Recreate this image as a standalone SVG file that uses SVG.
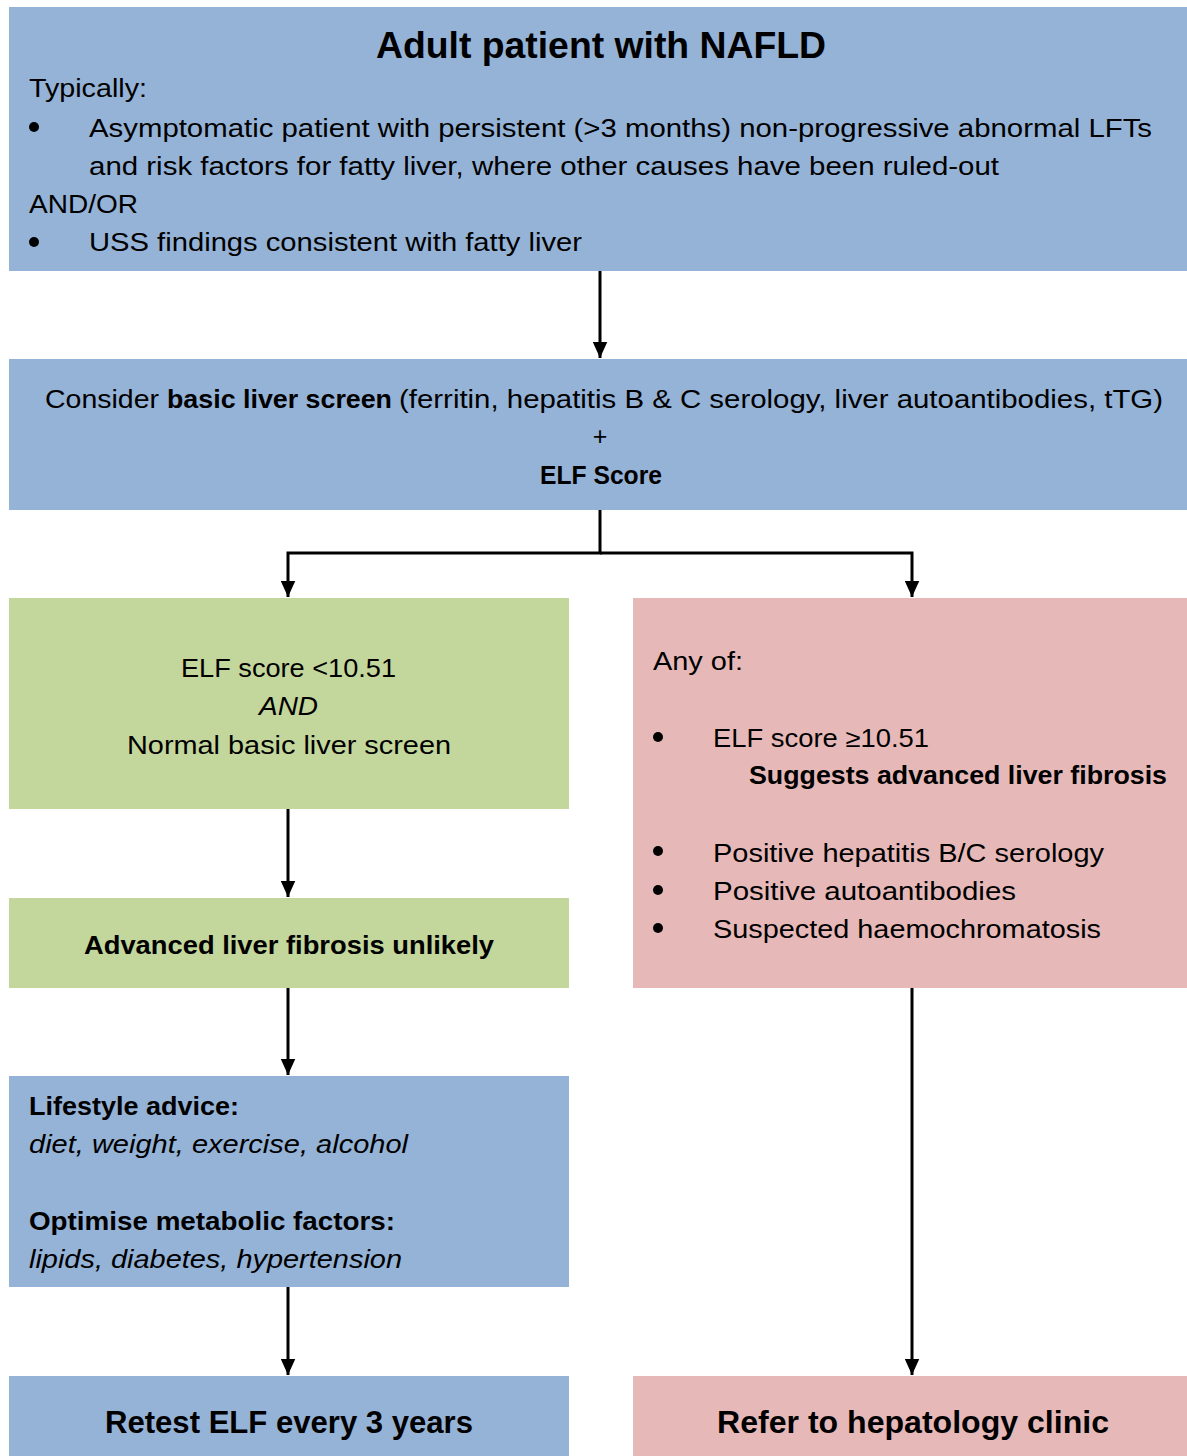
<svg xmlns="http://www.w3.org/2000/svg" width="1187" height="1456" viewBox="0 0 1187 1456">
<defs>
<style>
text{font-family:"Liberation Sans",Arial,sans-serif;font-size:25px;fill:#000}
.b{font-weight:bold;font-size:26px}
.i{font-style:italic}
.blue{fill:#95B3D7}
.green{fill:#C3D69B}
.pink{fill:#E6B9B8}
.c{stroke:#000;stroke-width:3;fill:none}
</style>
<marker id="ah" viewBox="0 0 10 10" refX="10" refY="5" markerWidth="5.5" markerHeight="5" orient="auto" markerUnits="strokeWidth" preserveAspectRatio="none">
<path d="M0,0 L10,5 L0,10 z" fill="#000"/>
</marker>
</defs>
<rect width="1187" height="1456" fill="#fff"/>
<g id="connectors">
<line class="c" x1="600" y1="271" x2="600" y2="358" marker-end="url(#ah)"/>
<polyline class="c" points="600,510 600,553 288,553 288,597" marker-end="url(#ah)"/>
<polyline class="c" points="600,553 912,553 912,597" marker-end="url(#ah)"/>
<line class="c" x1="288" y1="809" x2="288" y2="897" marker-end="url(#ah)"/>
<line class="c" x1="288" y1="988" x2="288" y2="1075" marker-end="url(#ah)"/>
<line class="c" x1="288" y1="1287" x2="288" y2="1375" marker-end="url(#ah)"/>
<line class="c" x1="912" y1="988" x2="912" y2="1375" marker-end="url(#ah)"/>
</g>
<g id="node-start">
<rect class="blue" x="9" y="7" width="1178" height="264"/>
<text class="b" x="376" y="58" style="font-size:36px" textLength="450" lengthAdjust="spacingAndGlyphs">Adult patient with NAFLD</text>
<text x="29" y="97" textLength="118" lengthAdjust="spacingAndGlyphs">Typically:</text>
<circle cx="34" cy="127" r="5"/>
<text x="89" y="137" textLength="1063" lengthAdjust="spacingAndGlyphs">Asymptomatic patient with persistent (&gt;3 months) non-progressive abnormal LFTs</text>
<text x="89" y="175" textLength="910" lengthAdjust="spacingAndGlyphs">and risk factors for fatty liver, where other causes have been ruled-out</text>
<text x="29" y="213" textLength="109" lengthAdjust="spacingAndGlyphs">AND/OR</text>
<circle cx="34" cy="242" r="5"/>
<text x="89" y="251" textLength="493" lengthAdjust="spacingAndGlyphs">USS findings consistent with fatty liver</text>
</g>
<g id="node-screen">
<rect class="blue" x="9" y="359" width="1178" height="151"/>
<text x="45" y="408" textLength="114" lengthAdjust="spacingAndGlyphs">Consider</text>
<text class="b" x="167" y="408" textLength="225" lengthAdjust="spacingAndGlyphs">basic liver screen</text>
<text x="399" y="408" textLength="764" lengthAdjust="spacingAndGlyphs">(ferritin, hepatitis B &amp; C serology, liver autoantibodies, tTG)</text>
<text x="600" y="445" text-anchor="middle">+</text>
<text class="b" x="540" y="484" textLength="122" lengthAdjust="spacingAndGlyphs">ELF Score</text>
</g>
<g id="node-low">
<rect class="green" x="9" y="598" width="560" height="211"/>
<text x="181" y="677" textLength="215" lengthAdjust="spacingAndGlyphs">ELF score &lt;10.51</text>
<text class="i" x="259" y="715" textLength="59" lengthAdjust="spacingAndGlyphs">AND</text>
<text x="127" y="754" textLength="324" lengthAdjust="spacingAndGlyphs">Normal basic liver screen</text>
</g>
<g id="node-high">
<rect class="pink" x="633" y="598" width="554" height="390"/>
<text x="653" y="670" textLength="90" lengthAdjust="spacingAndGlyphs">Any of:</text>
<circle cx="658" cy="737" r="5"/>
<text x="713" y="747" textLength="216" lengthAdjust="spacingAndGlyphs">ELF score ≥10.51</text>
<text class="b" x="749" y="784" textLength="418" lengthAdjust="spacingAndGlyphs">Suggests advanced liver fibrosis</text>
<circle cx="658" cy="851" r="5"/>
<text x="713" y="862" textLength="391" lengthAdjust="spacingAndGlyphs">Positive hepatitis B/C serology</text>
<circle cx="658" cy="890" r="5"/>
<text x="713" y="900" textLength="303" lengthAdjust="spacingAndGlyphs">Positive autoantibodies</text>
<circle cx="658" cy="928" r="5"/>
<text x="713" y="938" textLength="388" lengthAdjust="spacingAndGlyphs">Suspected haemochromatosis</text>
</g>
<g id="node-unlikely">
<rect class="green" x="9" y="898" width="560" height="90"/>
<text class="b" x="84" y="954" textLength="410" lengthAdjust="spacingAndGlyphs">Advanced liver fibrosis unlikely</text>
</g>
<g id="node-lifestyle">
<rect class="blue" x="9" y="1076" width="560" height="211"/>
<text class="b" x="29" y="1115" textLength="210" lengthAdjust="spacingAndGlyphs">Lifestyle advice:</text>
<text class="i" x="29" y="1153" textLength="379" lengthAdjust="spacingAndGlyphs">diet, weight, exercise, alcohol</text>
<text class="b" x="29" y="1230" textLength="366" lengthAdjust="spacingAndGlyphs">Optimise metabolic factors:</text>
<text class="i" x="29" y="1268" textLength="373" lengthAdjust="spacingAndGlyphs">lipids, diabetes, hypertension</text>
</g>
<g id="node-retest">
<rect class="blue" x="9" y="1376" width="560" height="80"/>
<text class="b" x="105" y="1433" style="font-size:31px" textLength="368" lengthAdjust="spacingAndGlyphs">Retest ELF every 3 years</text>
</g>
<g id="node-refer">
<rect class="pink" x="633" y="1376" width="554" height="80"/>
<text class="b" x="717" y="1433" style="font-size:31px" textLength="392" lengthAdjust="spacingAndGlyphs">Refer to hepatology clinic</text>
</g>
</svg>
